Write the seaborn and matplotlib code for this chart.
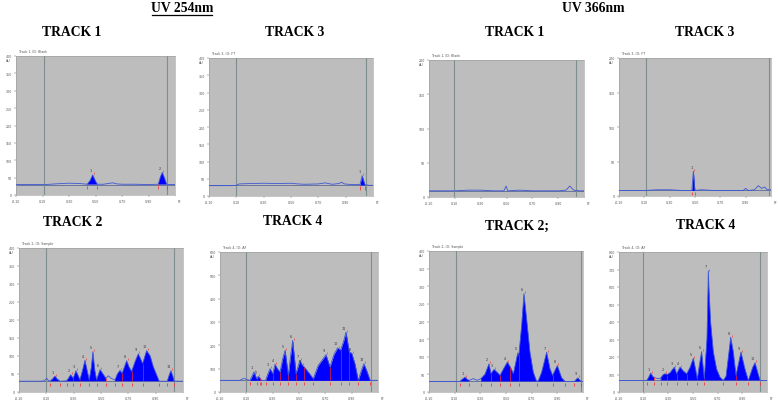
"""
HPTLC densitograms, UV 254 nm and UV 366 nm, tracks 1-4
"""
import numpy as np
import pandas as pd
import seaborn as sns
import matplotlib.pyplot as plt
from matplotlib.lines import Line2D

# ---- UV 254 nm ----
uv254_t1_rf = [-0.10, 0.00, 0.114, 0.20, 0.30, 0.38, 0.438, 0.46, 0.479, 0.50, 0.514, 0.56, 0.63, 0.66,
               0.70, 0.80, 0.90, 0.974, 0.99, 1.004, 1.02, 1.037, 1.06, 1.10]
uv254_t1_au = [30, 30, 30, 32, 34, 33, 31, 42, 58, 40, 31, 31, 35, 32,
               31, 31, 30, 31, 52, 65, 50, 31, 30, 30]
uv254_t1_fills = [(0.438, 0.514), (0.974, 1.037)]
uv254_t1_cuts = [0.438, 0.514, 0.974, 1.037]
uv254_t1_peaks = [0.479, 1.004]

uv254_t3_rf = [-0.10, 0.05, 0.10, 0.12, 0.20, 0.30, 0.40, 0.50, 0.55, 0.60, 0.70, 0.75, 0.80, 0.85,
               0.87, 0.89, 0.95, 1.005, 1.02, 1.04, 1.07, 1.10]
uv254_t3_au = [30, 30, 31, 35, 36, 37, 36, 37, 35, 34, 35, 38, 34, 36,
               40, 35, 33, 33, 59, 33, 31, 31]
uv254_t3_fills = [(1.005, 1.04)]
uv254_t3_cuts = [1.005, 1.04]
uv254_t3_peaks = [1.02]

uv254_t2_rf = [-0.10, 0.06, 0.085, 0.103, 0.115, 0.127, 0.145, 0.163, 0.18, 0.20, 0.249, 0.265, 0.278,
               0.297, 0.317, 0.33, 0.346, 0.365, 0.383, 0.40, 0.414, 0.43, 0.441, 0.455, 0.468, 0.493,
               0.515, 0.536, 0.553, 0.575, 0.602, 0.62, 0.639, 0.655, 0.688, 0.705, 0.724, 0.75, 0.773,
               0.79, 0.805, 0.834, 0.86, 0.883, 0.926, 0.985, 1.0, 1.012, 1.025, 1.036, 1.10]
uv254_t2_au = [30, 30, 31, 38, 32, 30, 36, 44, 36, 30, 31, 40, 48,
               38, 59, 48, 34, 60, 88, 58, 34, 70, 112, 60, 34, 62,
               50, 38, 45, 38, 33, 50, 60, 52, 87, 70, 57, 85, 106,
               92, 79, 115, 100, 70, 30, 30, 48, 59, 45, 30, 30]
uv254_t2_fills = [(0.127, 0.20), (0.249, 0.536), (0.602, 0.926), (0.985, 1.036)]
uv254_t2_cuts = [0.127, 0.20, 0.249, 0.297, 0.346, 0.414, 0.468, 0.536, 0.602, 0.655, 0.724, 0.805,
                 0.926, 0.985, 1.036]
uv254_t2_peaks = [0.163, 0.278, 0.317, 0.383, 0.441, 0.493, 0.639, 0.688, 0.773, 0.834, 1.012]

uv254_t4_rf = [-0.10, 0.05, 0.075, 0.09, 0.11, 0.128, 0.145, 0.158, 0.178, 0.19, 0.203, 0.215, 0.246,
               0.265, 0.28, 0.301, 0.318, 0.335, 0.356, 0.375, 0.394, 0.419, 0.435, 0.452, 0.477, 0.507,
               0.525, 0.54, 0.578, 0.608, 0.646, 0.68, 0.705, 0.735, 0.765, 0.793, 0.816, 0.84, 0.857,
               0.882, 0.90, 0.925, 0.95, 0.975, 0.993, 1.015, 1.04, 1.10]
uv254_t4_au = [50, 50, 57, 57, 52, 50, 70, 86, 57, 67, 60, 50, 50,
               80, 100, 79, 119, 100, 86, 140, 179, 71, 150, 221, 79, 136,
               115, 107, 80, 57, 114, 140, 160, 107, 160, 189, 180, 220, 257,
               170, 167, 120, 50, 95, 121, 90, 50, 50]
uv254_t4_fills = [(0.128, 0.215), (0.246, 1.04)]
uv254_t4_cuts = [0.128, 0.178, 0.203, 0.215, 0.246, 0.301, 0.356, 0.419, 0.477, 0.54, 0.608, 0.735,
                 0.816, 0.882, 0.95, 1.04]
uv254_t4_peaks = [0.158, 0.19, 0.28, 0.318, 0.394, 0.452, 0.507, 0.525, 0.705, 0.793, 0.857, 0.90, 0.993]

# ---- UV 366 nm ----
uv366_t1_rf = [-0.10, 0.10, 0.20, 0.30, 0.40, 0.48, 0.497, 0.51, 0.60, 0.70, 0.80, 0.90, 0.96, 0.99,
               1.02, 1.06, 1.10]
uv366_t1_au = [9, 9, 10, 10, 9, 9, 16, 9, 10, 9, 9, 9, 10, 16,
               10, 9, 9]

uv366_t3_rf = [-0.10, 0.10, 0.20, 0.30, 0.40, 0.475, 0.487, 0.499, 0.55, 0.65, 0.80, 0.88, 0.90, 0.92,
               0.97, 1.00, 1.025, 1.05, 1.07, 1.10]
uv366_t3_au = [8, 8, 9, 9, 8, 8, 36, 8, 9, 8, 8, 8, 11, 8,
               9, 15, 11, 13, 9, 9]
uv366_t3_fills = [(0.475, 0.499)]
uv366_t3_cuts = [0.475, 0.499]
uv366_t3_peaks = [0.487]

uv366_t2_rf = [-0.10, 0.10, 0.142, 0.155, 0.181, 0.20, 0.215, 0.245, 0.276, 0.305, 0.336, 0.368, 0.383,
               0.407, 0.433, 0.454, 0.48, 0.511, 0.535, 0.558, 0.592, 0.60, 0.622, 0.64, 0.661, 0.687,
               0.713, 0.739, 0.752, 0.778, 0.817, 0.843, 0.863, 0.90, 0.934, 0.96, 1.033, 1.059, 1.085,
               1.10]
uv366_t2_au = [30, 30, 30, 35, 42, 35, 33, 38, 33, 38, 50, 80, 52,
               64, 55, 47, 65, 85, 70, 52, 111, 104, 188, 279, 207, 113,
               56, 30, 32, 56, 113, 66, 47, 75, 40, 30, 30, 40, 30,
               30]
uv366_t2_fills = [(0.142, 0.215), (0.305, 0.96), (1.033, 1.085)]
uv366_t2_cuts = [0.142, 0.215, 0.305, 0.383, 0.454, 0.535, 0.60, 0.739, 0.863, 0.96, 1.033, 1.085]
uv366_t2_peaks = [0.181, 0.368, 0.407, 0.511, 0.592, 0.64, 0.817, 0.90, 1.059]

uv366_t4_rf = [-0.10, 0.097, 0.124, 0.138, 0.157, 0.173, 0.184, 0.205, 0.219, 0.238, 0.26, 0.273, 0.292,
               0.314, 0.349, 0.368, 0.395, 0.422, 0.449, 0.476, 0.503, 0.524, 0.535, 0.551, 0.57, 0.592,
               0.613, 0.619, 0.624, 0.632, 0.643, 0.665, 0.692, 0.719, 0.746, 0.768, 0.787, 0.806, 0.827,
               0.849, 0.889, 0.922, 0.949, 0.984, 1.003, 1.022, 1.044, 1.10]
uv366_t4_au = [66, 66, 66, 80, 108, 90, 83, 78, 76, 80, 100, 104, 100,
               110, 142, 104, 142, 120, 104, 140, 193, 120, 76, 150, 231, 76,
               300, 480, 692, 560, 400, 230, 130, 85, 66, 90, 200, 313, 230,
               95, 228, 130, 66, 140, 167, 120, 66, 66]
uv366_t4_fills = [(0.124, 0.184), (0.238, 1.044)]
uv366_t4_cuts = [0.124, 0.184, 0.238, 0.292, 0.368, 0.449, 0.535, 0.592, 0.746, 0.849, 0.949, 1.044]
uv366_t4_peaks = [0.157, 0.273, 0.349, 0.395, 0.503, 0.57, 0.624, 0.806, 0.889, 1.003]

x_ticks = [-0.10, 0.10, 0.30, 0.50, 0.70, 0.90]

W, H = 778, 402


def px_rect(x0, x1, y0, y1):
    return [x0 / W, 1 - y1 / H, (x1 - x0) / W, (y1 - y0) / H]


def draw_track(ax, rf, au, base, ymax, ystep, front, track_id, fills=(), cuts=(), peaks=()):
    ax.set_facecolor('#bdbdbd')
    x = np.array(rf)
    y = np.array(au)

    # integrated peak areas
    mask = np.zeros(len(x), bool)
    for a, b in fills:
        mask |= (x >= a - 1e-9) & (x <= b + 1e-9)
    if mask.any():
        ax.fill_between(x, base, y, where=mask, color='#0000ff', lw=0, zorder=2)

    ax.axhline(base, color='#5c6a96', lw=0.6, zorder=1)
    for f in front:
        ax.axvline(f, color='#7e8e8e', lw=0.8, zorder=1)

    df = pd.DataFrame({'rf': rf, 'au': au})
    sns.lineplot(data=df, x='rf', y='au', ax=ax, color='#3c55d6', lw=0.6,
                 estimator=None, sort=False, zorder=3)

    # peak boundaries
    for c in cuts:
        yc = np.interp(c, x, y)
        ax.vlines(c, base, yc, color='#ff2020', lw=0.5, zorder=4)
        ax.vlines(c, base - 0.035 * ymax, base - 0.01 * ymax, color='#ff2020', lw=0.5, zorder=4)
    for i, p in enumerate(peaks):
        yp = np.interp(p, x, y)
        ax.plot([p + 0.008], [yp + 0.01 * ymax], marker='|', ms=1.5, color='#ff2020', mew=0.4, zorder=4)
        ax.annotate(str(i + 1), (p, yp), xytext=(-1.5, 2.5), textcoords='offset points',
                    fontsize=2.4, color='#333333', ha='center')

    ax.set_xlim(-0.10, 1.10)
    ax.set_ylim(0, ymax)
    ax.set_xticks(x_ticks)
    ax.set_xticklabels([f'{t:.2f}' for t in x_ticks])
    ax.set_yticks(range(0, ymax + 1, ystep))
    ax.tick_params(labelsize=2.3, length=1.2, width=0.3, pad=1.5, colors='#555555')
    ax.set_xlabel('')
    ax.set_ylabel('')
    for s in ax.spines.values():
        s.set_color('#9a9a9a')
        s.set_linewidth(0.4)
    ax.annotate('AU', (0, 0.97), xycoords='axes fraction', xytext=(-7, 0), textcoords='offset points',
                fontsize=2.3, color='#555555', va='center')
    ax.annotate('Rf', (1, 0), xycoords='axes fraction', xytext=(2, -3), textcoords='offset points',
                fontsize=2.3, color='#555555', va='top')
    ax.annotate(track_id, (0.02, 1), xycoords='axes fraction', xytext=(0, 2.5), textcoords='offset points',
                fontsize=2.3, color='#555555', va='bottom')


fig = plt.figure(figsize=(W / 100, H / 100), dpi=100)
serif = ['Liberation Serif', 'DejaVu Serif']

# UV 254 nm
ax = fig.add_axes(px_rect(16, 175, 57, 196))
draw_track(ax, uv254_t1_rf, uv254_t1_au, 30, 400, 50, (0.114, 1.04), 'Track 1, ID: Blank',
           uv254_t1_fills, uv254_t1_cuts, uv254_t1_peaks)
ax = fig.add_axes(px_rect(209, 373, 59, 197))
draw_track(ax, uv254_t3_rf, uv254_t3_au, 32, 400, 50, (0.098, 1.046), 'Track 3, ID: FT',
           uv254_t3_fills, uv254_t3_cuts, uv254_t3_peaks)
ax = fig.add_axes(px_rect(19, 183, 249, 393))
draw_track(ax, uv254_t2_rf, uv254_t2_au, 30, 400, 50, (0.095, 1.036), 'Track 2, ID: Sample',
           uv254_t2_fills, uv254_t2_cuts, uv254_t2_peaks)
ax = fig.add_axes(px_rect(220, 378, 253, 393))
draw_track(ax, uv254_t4_rf, uv254_t4_au, 50, 600, 100, (0.097, 1.044), 'Track 4, ID: AF',
           uv254_t4_fills, uv254_t4_cuts, uv254_t4_peaks)

# UV 366 nm
ax = fig.add_axes(px_rect(429, 584, 61, 198))
draw_track(ax, uv366_t1_rf, uv366_t1_au, 9, 200, 50, (0.096, 1.04), 'Track 1, ID: Blank')
ax = fig.add_axes(px_rect(619, 771, 59, 197))
draw_track(ax, uv366_t3_rf, uv366_t3_au, 8, 200, 50, (0.11, 1.084), 'Track 3, ID: FT',
           uv366_t3_fills, uv366_t3_cuts, uv366_t3_peaks)
ax = fig.add_axes(px_rect(429, 583, 252, 393))
draw_track(ax, uv366_t2_rf, uv366_t2_au, 30, 400, 50, (0.11, 1.085), 'Track 2, ID: Sample',
           uv366_t2_fills, uv366_t2_cuts, uv366_t2_peaks)
ax = fig.add_axes(px_rect(619, 767, 253, 393))
draw_track(ax, uv366_t4_rf, uv366_t4_au, 66, 800, 100, (0.097, 1.046), 'Track 4, ID: AF',
           uv366_t4_fills, uv366_t4_cuts, uv366_t4_peaks)

# headings
fig.text(182 / W, 1 - 8 / H, 'UV 254nm', ha='center', va='center', fontsize=9.8,
         fontweight='bold', family=serif)
fig.add_artist(Line2D([152 / W, 212 / W], [1 - 15.5 / H, 1 - 15.5 / H], color='black', lw=0.9))
fig.text(593 / W, 1 - 8 / H, 'UV 366nm', ha='center', va='center', fontsize=9.8,
         fontweight='bold', family=serif)

track_titles = [('TRACK 1', 72, 32), ('TRACK 3', 295, 32), ('TRACK 2', 73, 223), ('TRACK 4', 293, 222),
                ('TRACK 1', 515, 32), ('TRACK 3', 705, 32), ('TRACK 2;', 517, 226), ('TRACK 4', 706, 226)]
for label, tx, ty in track_titles:
    fig.text(tx / W, 1 - ty / H, label, ha='center', va='center', fontsize=9.8,
             fontweight='bold', family=serif)

fig.savefig('out.png', dpi=100)
